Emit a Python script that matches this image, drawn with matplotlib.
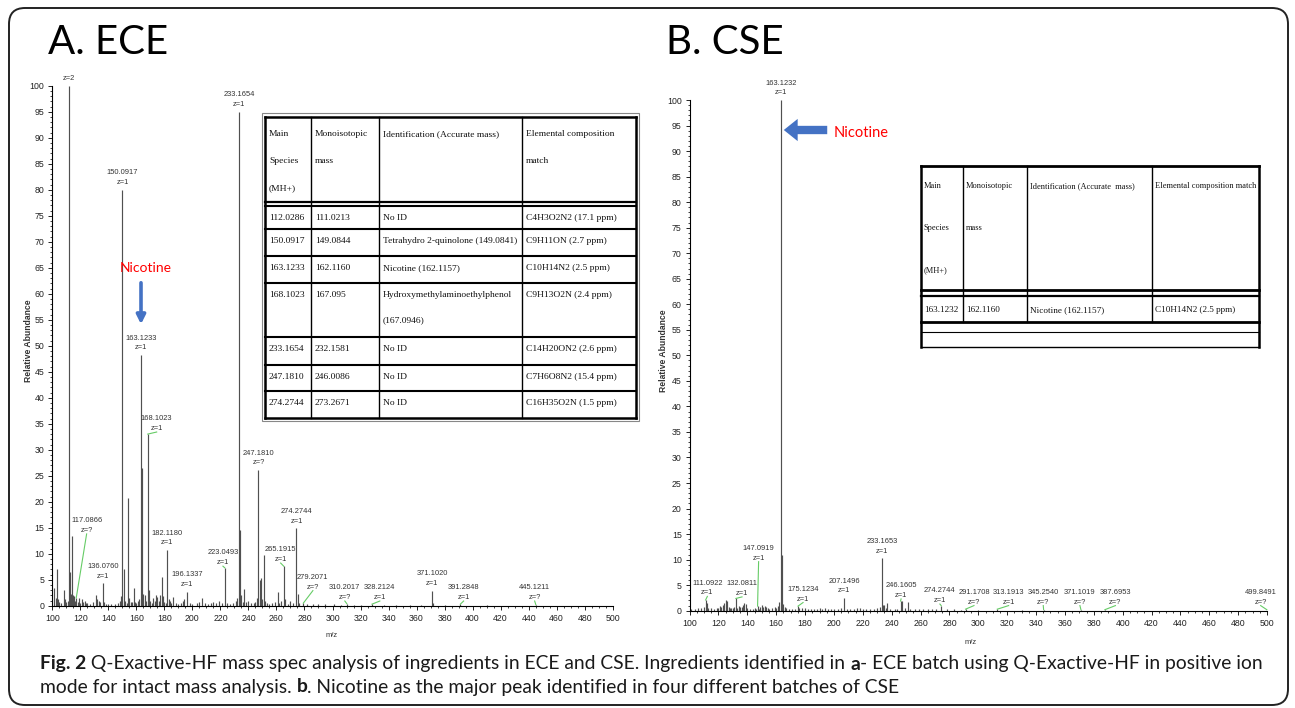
import matplotlib
matplotlib.use("Agg")
import numpy as np
import matplotlib.pyplot as plt
from matplotlib.patches import FancyBboxPatch, FancyArrowPatch
from matplotlib.lines import Line2D
from matplotlib.ticker import MultipleLocator
from matplotlib.font_manager import FontProperties

W, H = 1295, 708

# ---------------- data ----------------
# A. ECE spectrum (m/z, relative abundance %)
ece_mz = [101.5, 102.5, 103.1, 104, 105, 106, 108.1, 109, 110, 111, 112.03, 112.6, 113.1, 114.1,
          114.6, 115.2, 116, 117.09, 118, 119, 120, 121, 122, 123, 124, 125, 127, 129, 131, 132,
          133, 134, 136.08, 137, 138, 140, 142, 145, 147, 148, 149, 150.09, 151, 152, 153, 154.1,
          155, 156, 157, 158.1, 159, 160, 161, 162, 163.12, 164.1, 165, 166, 167, 168.1, 169, 170,
          171, 172, 173, 174, 175, 176, 177, 178.1, 179, 180, 181, 182.12, 183, 184, 185, 186, 188,
          190, 192, 193, 194, 196.13, 198, 200, 203, 205, 207, 209, 211, 213, 215, 217, 219, 221,
          223.05, 225, 227, 229, 231, 232, 233.17, 234.2, 235, 236, 237.1, 238, 240, 242, 244, 245,
          246, 247.18, 248, 249, 250, 251.1, 252, 253, 255, 257, 259, 261, 262, 263, 265.19, 266,
          268, 270, 272, 274.27, 275.3, 276, 279.2, 282, 286, 290, 295, 301, 306, 310.2, 315, 320,
          328.2, 337, 345, 355, 363, 371.1, 372, 380, 391.3, 410, 445.1]
ece_int = [3.5, 1.5, 7.0, 1.2, 0.8, 0.6, 3.0, 1.2, 0.8, 1.0, 100, 6.5, 2.2, 13.5,
           2.0, 1.8, 1.0, 1.5, 0.8, 1.5, 0.6, 1.2, 0.8, 0.9, 0.5, 0.6, 0.4, 0.7, 2.0, 1.3,
           1.0, 0.8, 4.3, 0.7, 0.4, 0.4, 0.3, 0.4, 0.6, 1.0, 1.8, 80, 7.1, 1.0, 0.5, 20.8,
           1.5, 0.7, 0.8, 3.5, 0.8, 0.6, 0.9, 1.2, 48.2, 26.4, 2.2, 2.0, 1.0, 33.0, 3.0, 0.9,
           0.6, 1.5, 1.0, 2.0, 1.6, 0.9, 2.0, 5.6, 1.8, 0.8, 0.5, 10.7, 1.2, 1.0, 0.5, 1.6, 0.6,
           0.4, 0.6, 1.0, 1.2, 2.7, 0.5, 0.4, 0.5, 0.7, 1.5, 0.6, 0.4, 0.5, 0.7, 0.5, 1.0, 0.6,
           7.3, 0.5, 0.4, 0.6, 0.9, 1.4, 95, 14.6, 2.0, 0.8, 3.2, 0.7, 1.0, 0.5, 0.5, 0.8,
           1.5, 26.1, 5.0, 5.4, 1.2, 9.7, 1.0, 0.6, 0.4, 0.5, 0.7, 2.6, 0.6, 1.0, 7.6, 1.2,
           0.4, 1.0, 0.5, 14.9, 2.3, 0.6, 0.5, 0.3, 0.3, 0.3, 0.3, 0.3, 0.2, 0.4, 0.2, 0.2,
           0.3, 0.2, 0.2, 0.2, 0.2, 2.9, 0.5, 0.2, 0.3, 0.2, 0.2]
ece_label_mass = ["112.0286", "117.0866", "136.0760", "150.0917", "163.1233", "168.1023",
                  "182.1180", "196.1337", "223.0493", "233.1654", "247.1810", "265.1915",
                  "274.2744", "279.2071", "310.2017", "328.2124", "371.1020", "391.2848", "445.1211"]
ece_label_z = ["z=2", "z=?", "z=1", "z=1", "z=1", "z=1", "z=1", "z=1", "z=1", "z=1", "z=?",
               "z=1", "z=1", "z=?", "z=?", "z=1", "z=1", "z=1", "z=?"]

# B. CSE spectrum
cse_mz = [101, 104, 106, 108, 110, 111.09, 112, 113, 115, 117, 119, 120, 121, 122, 123, 124, 125,
          126, 127, 128, 129, 130, 131, 132.08, 133, 134, 135, 136, 137, 138, 139, 140, 142, 144,
          145, 146, 147.09, 148, 149, 150, 151, 152, 153, 154, 155, 157, 159, 160, 161, 162, 163.12,
          164.13, 165, 166, 167, 169, 171, 173, 175.12, 176, 178, 180, 182, 184, 186, 188, 190, 192,
          194, 196, 198, 200, 203, 205, 207.15, 209, 211, 214, 216, 218, 220, 222, 225, 228, 230,
          232, 233.17, 234, 235, 236, 237, 239, 242, 244, 246.16, 247, 249, 251, 253, 256, 259,
          262, 265, 268, 271, 274.27, 278, 283, 288, 291.17, 300, 313.19, 330, 345.25, 371.1,
          387.7, 499.85]
cse_int = [0.3, 0.4, 0.5, 0.6, 0.7, 2.1, 1.5, 0.6, 0.5, 0.4, 0.6, 0.5, 0.9, 0.7, 1.2, 1.6, 2.0,
           1.9, 0.8, 0.5, 0.6, 0.5, 0.8, 2.4, 0.6, 0.9, 0.7, 0.8, 1.2, 1.5, 1.4, 0.5, 0.3, 0.4,
           0.5, 0.3, 0.9, 0.4, 0.8, 1.2, 0.7, 1.0, 0.8, 0.6, 0.4, 0.5, 0.7, 0.6, 0.9, 1.8, 100,
           10.9, 1.4, 0.8, 0.5, 0.4, 0.3, 0.4, 0.9, 0.5, 0.6, 0.5, 0.3, 0.4, 0.3, 0.4, 0.5, 0.4,
           0.5, 0.4, 0.3, 0.3, 0.4, 0.5, 2.5, 0.4, 0.3, 0.4, 0.6, 0.5, 0.4, 0.3, 0.4, 0.3, 0.5,
           0.7, 10.3, 1.2, 1.2, 0.5, 1.5, 0.4, 0.3, 0.4, 1.9, 1.9, 0.5, 1.8, 0.4, 0.3, 0.4,
           0.4, 0.3, 0.3, 0.4, 1.0, 0.3, 0.3, 0.2, 0.3, 0.2, 0.3, 0.2, 0.2, 0.2,
           0.2, 0.2]
cse_label_mass = ["111.0922", "132.0811", "147.0919", "163.1232", "175.1234", "207.1496",
                  "233.1653", "246.1605", "274.2744", "291.1708", "313.1913", "345.2540",
                  "371.1019", "387.6953", "499.8491"]
cse_label_z = ["z=1", "z=1", "z=1", "z=1", "z=1", "z=1", "z=1", "z=1", "z=1", "z=?", "z=1",
               "z=?", "z=?", "z=?", "z=?"]

# tables
ece_header = ["Main\nSpecies\n(MH+)", "Monoisotopic\nmass", "Identification (Accurate mass)",
              "Elemental composition\nmatch"]
ece_rows = [["112.0286", "111.0213", "No ID", "C4H3O2N2 (17.1 ppm)"],
            ["150.0917", "149.0844", "Tetrahydro 2-quinolone (149.0841)", "C9H11ON (2.7 ppm)"],
            ["163.1233", "162.1160", "Nicotine (162.1157)", "C10H14N2 (2.5 ppm)"],
            ["168.1023", "167.095", "Hydroxymethylaminoethylphenol\n(167.0946)", "C9H13O2N (2.4 ppm)"],
            ["233.1654", "232.1581", "No ID", "C14H20ON2 (2.6 ppm)"],
            ["247.1810", "246.0086", "No ID", "C7H6O8N2 (15.4 ppm)"],
            ["274.2744", "273.2671", "No ID", "C16H35O2N (1.5 ppm)"]]
cse_header = ["Main\nSpecies\n(MH+)", "Monoisotopic\nmass", "Identification (Accurate  mass)",
              "Elemental composition match"]
cse_rows = [["163.1232", "162.1160", "Nicotine (162.1157)", "C10H14N2 (2.5 ppm)"]]

caption1 = [("Fig. 2", True),
            (" Q-Exactive-HF mass spec analysis of ingredients in ECE and CSE. Ingredients identified in ", False),
            ("a", True), ("- ECE batch using Q-Exactive-HF in positive ion", False)]
caption2 = [("mode for intact mass analysis. ", False), ("b", True),
            (". Nicotine as the major peak identified in four different batches of CSE", False)]

# ---------------- layout ----------------
NARROW = ['Liberation Sans Narrow', 'Liberation Sans', 'DejaVu Sans']
SERIF = ['Liberation Serif', 'DejaVu Serif']
CAL = ['Lato', 'Open Sans', 'DejaVu Sans']
plt.rcParams['font.family'] = NARROW

# label placement for displaced labels (m/z, y of label bottom)
ece_place = {"117.0866": (124.5, 13.8), "168.1023": (174.5, 33.4), "223.0493": (221.8, 7.6),
             "265.1915": (263.0, 8.2), "279.2071": (286.0, 2.9), "310.2017": (308.8, 0.9),
             "328.2124": (333.8, 0.9), "391.2848": (393.6, 0.9), "445.1211": (444.3, 0.9)}
cse_place = {"111.0922": (112.3, 2.8), "132.0811": (136.3, 2.7), "147.0919": (147.8, 9.6),
             "175.1234": (178.6, 1.6), "246.1605": (246.5, 2.3), "274.2744": (273.4, 1.3),
             "291.1708": (297.0, 1.0), "313.1913": (321.0, 1.0), "345.2540": (345.0, 1.0),
             "371.1019": (370.4, 1.0), "387.6953": (395.0, 1.0), "499.8491": (495.6, 1.0)}
hide_mass = {"112.0286"}

fig = plt.figure(figsize=(W / 100, H / 100), dpi=100)


def fx(x):
    return x / W


def fy(y):
    return 1 - y / H


def draw_spectrum(ax, mz, inten, lab_mass, lab_z, place, ylab_x, xlab_xy):
    ax.vlines(mz, 0, inten, color='#505050', lw=0.85)
    ax.set_xlim(100, 500)
    ax.set_ylim(0, 100)
    for s in ['top', 'right']:
        ax.spines[s].set_visible(False)
    for s in ['left', 'bottom']:
        ax.spines[s].set_linewidth(0.8)
    ax.xaxis.set_major_locator(MultipleLocator(20))
    ax.xaxis.set_minor_locator(MultipleLocator(5))
    ax.yaxis.set_major_locator(MultipleLocator(5))
    ax.yaxis.set_minor_locator(MultipleLocator(1))
    ax.tick_params(which='major', length=3.2, width=0.7, labelsize=6.3, pad=2.5, color='#222',
                   labelcolor='#222')
    ax.tick_params(which='minor', length=1.6, width=0.6, color='#222')
    ax.set_ylabel('Relative Abundance', fontsize=6.2, fontweight='bold', color='#333')
    ax.yaxis.set_label_coords(ylab_x, 0.51)
    ax.set_xlabel('m/z', fontsize=5.5, color='#333')
    ax.xaxis.set_label_coords(*xlab_xy)
    mz_arr = np.array(mz)
    for m, z in zip(lab_mass, lab_z):
        x0 = float(m)
        top = inten[int(np.argmin(np.abs(mz_arr - x0)))]
        if m in place:
            lx, ly = place[m]
            ax.plot([x0, lx], [top, ly], color='#66cc66', lw=0.8, clip_on=False)
        else:
            lx, ly = x0, top + 0.7
        txt = z if m in hide_mass else m + "\n" + z
        ax.text(lx, ly, txt, ha='center', va='bottom', fontsize=5.4, linespacing=1.55,
                color='#333', clip_on=False)


ax_a = fig.add_axes([fx(52.3), fy(605.7), (612.7 - 52.3) / W, (605.7 - 85.7) / H])
draw_spectrum(ax_a, ece_mz, ece_int, ece_label_mass, ece_label_z, ece_place, -0.034, (0.499, -0.05))
ax_b = fig.add_axes([fx(689.6), fy(610.7), (1267 - 689.6) / W, (610.7 - 100) / H])
draw_spectrum(ax_b, cse_mz, cse_int, cse_label_mass, cse_label_z, cse_place, -0.037, (0.486, -0.055))


def hline(x0, x1, y, lw=1.0, color='black'):
    fig.add_artist(Line2D([fx(x0), fx(x1)], [fy(y), fy(y)], lw=lw, color=color))


def vline(x, y0, y1, lw=1.0, color='black'):
    fig.add_artist(Line2D([fx(x), fx(x)], [fy(y0), fy(y1)], lw=lw, color=color))


def cell_text(x, y, s, size, step):
    for i, line in enumerate(s.split("\n")):
        fig.text(fx(x), fy(y + i * step), line, fontsize=size, family=SERIF, va='center',
                 ha='left', color='#111')


# table A
ta_x = [265, 311, 379, 522, 636]
ta_rows_y = [206, 229, 256, 283, 337, 365, 391, 418]
ta_top = 117
fig.patches.append(FancyBboxPatch((fx(262), fy(421)), fx(639) - fx(262), fy(113) - fy(421),
                                  boxstyle='square,pad=0', transform=fig.transFigure,
                                  fill=False, ec='#888', lw=0.8))
hline(ta_x[0], ta_x[-1], ta_top, lw=1.8)
hline(ta_x[0], ta_x[-1], ta_rows_y[-1], lw=1.8)
vline(ta_x[0], ta_top, ta_rows_y[-1], lw=1.8)
vline(ta_x[-1], ta_top, ta_rows_y[-1], lw=1.8)
for x in ta_x[1:-1]:
    vline(x, ta_top, ta_rows_y[-1], lw=1.0)
hline(ta_x[0], ta_x[-1], 202, lw=1.6)
for y in ta_rows_y[:-1]:
    hline(ta_x[0], ta_x[-1], y, lw=1.5)
for j, s in enumerate(ece_header):
    cell_text(ta_x[j] + 4, ta_top + 17, s, 6.8, 27)
for i, row in enumerate(ece_rows):
    for j, s in enumerate(row):
        cell_text(ta_x[j] + 4, ta_rows_y[i] + 12, s, 6.8, 25)

# table B
tb_x = [921, 963, 1027, 1152, 1259]
tb_top = 166
hline(tb_x[0], tb_x[-1], tb_top, lw=2.0)
for x in tb_x[1:-1]:
    vline(x, tb_top, 322, lw=1.0)
vline(tb_x[0], tb_top, 347, lw=1.8)
vline(tb_x[-1], tb_top, 347, lw=1.8)
hline(tb_x[0], tb_x[-1], 290, lw=2.0)
hline(tb_x[0], tb_x[-1], 296, lw=1.6)
hline(tb_x[0], tb_x[-1], 322, lw=2.0)
hline(tb_x[0], tb_x[-1], 332, lw=0.8)
hline(tb_x[0], tb_x[-1], 347, lw=1.0)
for j, s in enumerate(cse_header):
    cell_text(tb_x[j] + 3, tb_top + 20, s, 6.0, 42)
for j, s in enumerate(cse_rows[0]):
    cell_text(tb_x[j] + 3, 310, s, 6.6, 25)

# nicotine markers
fig.text(fx(146), fy(268), "Nicotine", color='red', fontsize=10, family=CAL, ha='center', va='center')
fig.text(fx(861), fy(133), "Nicotine", color='red', fontsize=10.5, family=CAL, ha='center', va='center')
fig.add_artist(FancyArrowPatch((fx(141), fy(280)), (fx(141), fy(327)),
                               transform=fig.transFigure, arrowstyle='-|>',
                               mutation_scale=13, lw=2.6, color='#4472C4'))
fig.add_artist(FancyArrowPatch((fx(830), fy(130)), (fx(781), fy(130)),
                               transform=fig.transFigure,
                               arrowstyle='simple,head_width=1.6,head_length=1.0,tail_width=0.6',
                               mutation_scale=10, lw=0, color='#4472C4'))

# panel titles
fig.text(fx(48), fy(42), "A. ECE", fontsize=29, family=CAL, va='center', ha='left')
fig.text(fx(666), fy(42), "B. CSE", fontsize=29, family=CAL, va='center', ha='left')

# frame
fig.patches.append(FancyBboxPatch((0.09, 0.03), 12.79, 6.97,
                                  boxstyle='round,pad=0,rounding_size=0.16',
                                  transform=fig.dpi_scale_trans, fill=False, ec='#222', lw=1.4))

# caption
renderer = fig.canvas.get_renderer()


def run_width(s, size, bold):
    fp = FontProperties(family=CAL, size=size, weight='bold' if bold else 'normal')
    w1, _, _ = renderer.get_text_width_height_descent("|" + s + "|", fp, ismath=False)
    w0, _, _ = renderer.get_text_width_height_descent("||", fp, ismath=False)
    return w1 - w0


def draw_runs(x0, y0, runs, size):
    x = x0
    for s, bold in runs:
        fig.text(fx(x), fy(y0), s, fontsize=size, family=CAL,
                 fontweight='bold' if bold else 'normal', va='center', ha='left', color='#1a1a1a')
        x += run_width(s, size, bold)


cap_size = 12.0
line_w = sum(run_width(s, cap_size, b) for s, b in caption1)
cap_size = cap_size * (1262 - 40) / line_w
draw_runs(40, 664, caption1, cap_size)
draw_runs(40, 687, caption2, cap_size)

fig.savefig("out.png", dpi=100, facecolor='white')
